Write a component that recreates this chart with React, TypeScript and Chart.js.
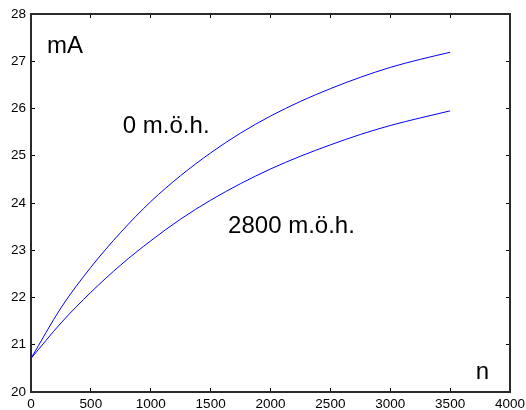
import React, { useEffect, useRef } from "react";
import { Chart, registerables } from "chart.js";

Chart.register(...registerables);

// Engine speed n
const speeds = [0, 250, 500, 750, 1000, 1250, 1500, 1750, 2000, 2250, 2500, 2750, 3000, 3250, 3500];
// Current (mA) at sea level
const seaLevel = [20.71, 21.78, 22.64, 23.38, 24.03, 24.58, 25.06, 25.48, 25.84, 26.15, 26.42, 26.66, 26.87, 27.04, 27.19];
// Current (mA) at 2800 m above sea level
const highAltitude = [20.71, 21.46, 22.11, 22.69, 23.2, 23.66, 24.06, 24.41, 24.72, 24.99, 25.23, 25.45, 25.64, 25.8, 25.95];

const xTickValues = [0, 500, 1000, 1500, 2000, 2500, 3000, 3500, 4000];
const yTickValues = [20, 21, 22, 23, 24, 25, 26, 27, 28];

// In-plot text labels, placed in data coordinates
const labelTexts = ["mA", "0 m.ö.h.", "2800 m.ö.h.", "n"];
const labelX = [134, 767, 1646, 3715];
const labelY = [27.17, 25.49, 23.37, 20.27];

const FONT = '"Liberation Sans", Helvetica, Arial, sans-serif';

const noPadding = (scale: any) => {
  scale.paddingLeft = 0;
  scale.paddingRight = 0;
  scale.paddingTop = 0;
  scale.paddingBottom = 0;
};

const textLabels = {
  id: "textLabels",
  afterDatasetsDraw(chart: any) {
    const { ctx, scales } = chart;
    ctx.save();
    ctx.fillStyle = "#000";
    ctx.font = `24px ${FONT}`;
    ctx.textAlign = "left";
    ctx.textBaseline = "alphabetic";
    labelTexts.forEach((t, i) => {
      ctx.fillText(t, scales.x.getPixelForValue(labelX[i]), scales.y.getPixelForValue(labelY[i]));
    });
    ctx.restore();
  },
};

export default function App() {
  const canvasRef = useRef<HTMLCanvasElement | null>(null);

  useEffect(() => {
    if (!canvasRef.current) return;
    const tickFont = { family: FONT, size: 13.5 };
    const gridCommon = {
      drawOnChartArea: false,
      drawTicks: true,
      tickLength: -4,
      color: "#000",
      tickWidth: 1,
    };
    const borderCommon = { display: true, color: "#2a2a2a", width: 2 };
    const plain = (v: any) => String(v);

    const chart = new Chart(canvasRef.current, {
      type: "line",
      data: {
        labels: speeds,
        datasets: [
          {
            label: "0 m.ö.h.",
            data: speeds.map((n, i) => ({ x: n, y: seaLevel[i] })),
            borderColor: "#0000ff",
            borderWidth: 1,
            pointRadius: 0,
            cubicInterpolationMode: "monotone",
            fill: false,
          },
          {
            label: "2800 m.ö.h.",
            data: speeds.map((n, i) => ({ x: n, y: highAltitude[i] })),
            borderColor: "#0000ff",
            borderWidth: 1,
            pointRadius: 0,
            cubicInterpolationMode: "monotone",
            fill: false,
          },
        ],
      },
      options: {
        responsive: false,
        animation: false,
        devicePixelRatio: 1,
        layout: { padding: { top: 14, right: 16, left: 0, bottom: 0 } },
        plugins: { legend: { display: false }, tooltip: { enabled: false } },
        scales: {
          x: {
            type: "linear",
            position: "bottom",
            min: 0,
            max: 4000,
            afterBuildTicks: (s: any) => {
              s.ticks = xTickValues.map((v) => ({ value: v }));
            },
            ticks: { color: "#000", font: tickFont, padding: 8, maxRotation: 0, autoSkip: false, callback: plain },
            grid: gridCommon,
            border: borderCommon,
            afterFit: (s: any) => {
              s.height = 18;
              noPadding(s);
            },
          },
          x2: {
            type: "linear",
            position: "top",
            min: 0,
            max: 4000,
            afterBuildTicks: (s: any) => {
              s.ticks = xTickValues.map((v) => ({ value: v }));
            },
            ticks: { display: false },
            grid: gridCommon,
            border: borderCommon,
            afterFit: (s: any) => {
              s.height = 0;
              noPadding(s);
            },
          },
          y: {
            type: "linear",
            position: "left",
            min: 20,
            max: 28,
            afterBuildTicks: (s: any) => {
              s.ticks = yTickValues.map((v) => ({ value: v }));
            },
            ticks: { color: "#000", font: tickFont, padding: 9, callback: plain },
            grid: gridCommon,
            border: borderCommon,
            afterFit: (s: any) => {
              s.width = 31;
              noPadding(s);
            },
          },
          y2: {
            type: "linear",
            position: "right",
            min: 20,
            max: 28,
            afterBuildTicks: (s: any) => {
              s.ticks = yTickValues.map((v) => ({ value: v }));
            },
            ticks: { display: false },
            grid: gridCommon,
            border: borderCommon,
            afterFit: (s: any) => {
              s.width = 0;
              noPadding(s);
            },
          },
        },
      },
      plugins: [textLabels],
    } as any);

    return () => chart.destroy();
  }, []);

  return (
    <div style={{ position: "fixed", left: 0, top: 0, width: 526, height: 410, background: "#fff" }}>
      <canvas ref={canvasRef} width={526} height={410} style={{ display: "block" }} />
    </div>
  );
}
